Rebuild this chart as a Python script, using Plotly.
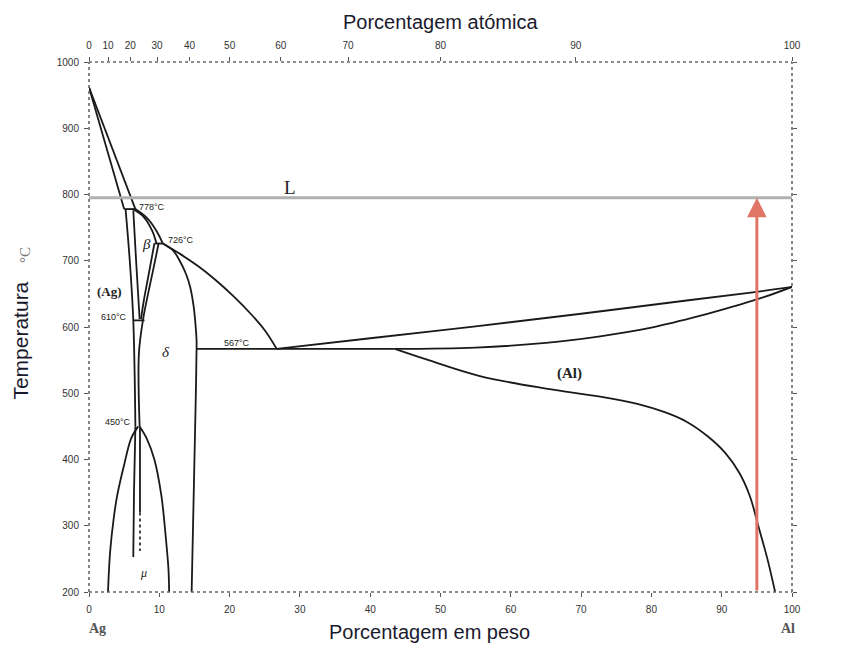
import plotly.graph_objects as go

# ---------------- data (wt% Al, temperature °C) ----------------
liq_ag_x = [0, 6.6]
liq_ag_t = [961.93, 778]
sol_ag_x = [0, 5.0]
sol_ag_t = [961.93, 778]
per778_x = [5.0, 6.6]
per778_t = [778, 778]
liq_beta_x = [6.6, 8.2, 9.6, 10.5]
liq_beta_t = [778, 765, 745, 726]
sol_beta_x = [6.2, 7.8, 9.0, 9.6]
sol_beta_t = [778, 766, 745, 726]
per726_x = [9.3, 10.5]
per726_t = [726, 726]
ag_solvus_x = [5.2, 5.8, 6.3, 6.6]
ag_solvus_t = [778, 700, 610, 450]
beta_left_x = [6.3, 6.7, 7.2]
beta_left_t = [776, 700, 612]
beta_right_x = [9.3, 8.5, 7.8, 7.4]
beta_right_t = [726, 680, 640, 612]
delta_left_x = [9.9, 9.2, 8.4, 7.7, 7.1, 7.2]
delta_left_t = [726, 690, 650, 612, 560, 450]
eut610_x = [6.3, 7.9]
eut610_t = [610, 610]
delta_right_x = [10.5, 12.0, 12.9, 13.8, 14.4, 14.9, 15.1, 15.3, 15.3, 15.2, 15.0, 14.8, 14.6]
delta_right_t = [726, 715, 700, 680, 660, 630, 610, 580, 567, 500, 400, 300, 200]
liq_delta_x = [10.5, 13.0, 15.5, 18.0, 20.5, 23.0, 25.0, 26.7]
liq_delta_t = [726, 710, 692, 671, 647, 620, 595, 567]
eut567_x = [15.3, 43.5]
eut567_t = [567, 567]
liq_al_x = [26.7, 40, 55, 70, 85, 95, 100]
liq_al_t = [567, 583, 601, 620, 640, 653, 660.452]
sol_al_x = [43.5, 55, 65, 72.7, 80, 87, 92, 96, 100]
sol_al_t = [567, 569, 576, 586, 599, 617, 632, 645, 660.452]
al_solvus_x = [43.5, 48, 55.6, 65, 72.7, 78, 82, 85, 88, 90.5, 92.5, 94, 95.2, 96.5, 97.6]
al_solvus_t = [567, 551, 526, 507, 495, 484, 471, 457, 435, 410, 380, 345, 300, 250, 200]
mu_left_x = [7.0, 6.0, 5.0, 4.0, 3.5, 3.0, 2.7]
mu_left_t = [450, 432, 392, 345, 310, 260, 200]
mu_right_x = [7.2, 8.2, 9.3, 10.3, 10.9, 11.3, 11.4]
mu_right_t = [450, 432, 400, 345, 285, 235, 200]
ag_low_x = [6.6, 6.4, 6.3]
ag_low_t = [450, 350, 253]
mu_line_x = [7.25, 7.25]
mu_line_t = [450, 320]
mu_dash_x = [7.25, 7.25]
mu_dash_t = [320, 262]

liquid_line_t = 795
sample_x = 95

bottom_ticks = [0, 10, 20, 30, 40, 50, 60, 70, 80, 90, 100]
left_ticks = [200, 300, 400, 500, 600, 700, 800, 900, 1000]
atomic_ticks = [0, 10, 20, 30, 40, 50, 60, 70, 80, 90, 100]
M_AL, M_AG = 26.98, 107.87
atomic_pos = [a * M_AL / (a * M_AL + (100 - a) * M_AG) * 100 for a in atomic_ticks]

fig = go.Figure()

curves = [
    (liq_ag_x, liq_ag_t, 'linear'), (sol_ag_x, sol_ag_t, 'linear'),
    (per778_x, per778_t, 'linear'), (liq_beta_x, liq_beta_t, 'spline'),
    (sol_beta_x, sol_beta_t, 'spline'), (per726_x, per726_t, 'linear'),
    (ag_solvus_x, ag_solvus_t, 'spline'), (beta_left_x, beta_left_t, 'spline'),
    (beta_right_x, beta_right_t, 'spline'), (delta_left_x, delta_left_t, 'spline'),
    (eut610_x, eut610_t, 'linear'), (delta_right_x, delta_right_t, 'spline'),
    (liq_delta_x, liq_delta_t, 'spline'), (eut567_x, eut567_t, 'linear'),
    (liq_al_x, liq_al_t, 'spline'), (sol_al_x, sol_al_t, 'spline'),
    (al_solvus_x, al_solvus_t, 'spline'), (mu_left_x, mu_left_t, 'spline'),
    (mu_right_x, mu_right_t, 'spline'), (ag_low_x, ag_low_t, 'spline'),
    (mu_line_x, mu_line_t, 'linear'),
]
for cx, ct, shp in curves:
    fig.add_trace(go.Scatter(x=cx, y=ct, mode='lines', line=dict(color='#1a1a1a', width=1.8, shape=shp),
                             hoverinfo='skip', showlegend=False))
fig.add_trace(go.Scatter(x=mu_dash_x, y=mu_dash_t, mode='lines',
                         line=dict(color='#1a1a1a', width=1.6, dash='dot'), showlegend=False))

# gray liquid line
fig.add_trace(go.Scatter(x=[0, 100], y=[liquid_line_t, liquid_line_t], mode='lines',
                         line=dict(color='#b0b0b0', width=3), showlegend=False))

# dummy traces for secondary axes
fig.add_trace(go.Scatter(x=[0, 100], y=[200, 1000], xaxis='x2', yaxis='y2', mode='markers',
                         marker=dict(opacity=0), showlegend=False, hoverinfo='skip'))

fig.add_annotation(x=sample_x, y=liquid_line_t, ax=sample_x, ay=200, xref='x', yref='y',
                   axref='x', ayref='y', showarrow=True, arrowhead=2, arrowsize=1.3,
                   arrowwidth=3, arrowcolor='#e07565', text='')

lab = dict(family='Liberation Sans', size=9, color='#222')
def txt(x, y, s, xa='center', font=lab):
    fig.add_annotation(x=x, y=y, text=s, showarrow=False, xanchor=xa, yanchor='middle', font=font)

txt(-0.4, 962, '<b>961.93°C</b>', 'right')
txt(6.8, 781, '778°C', 'left')
txt(11.0, 731, '726°C', 'left')
txt(5.7, 615, '610°C', 'right')
txt(6.2, 456, '450°C', 'right')
txt(21.1, 576, '567°C', 'center')
txt(100.7, 663, '660.452°C', 'left')
txt(8.2, 726, '<i>β</i>', 'center', dict(family='Liberation Serif', size=15, color='#222'))
txt(11.0, 563, '<i>δ</i>', 'center', dict(family='Liberation Serif', size=15, color='#222'))
txt(7.8, 228, '<i>μ</i>', 'center', dict(family='Liberation Serif', size=12, color='#222'))
txt(2.9, 653, '<b>(Ag)</b>', 'center', dict(family='Liberation Serif', size=13, color='#222'))
txt(68.4, 530, '<b>(Al)</b>', 'center', dict(family='Liberation Serif', size=15, color='#222'))
txt(28.6, 811, 'L', 'center', dict(family='Liberation Serif', size=19, color='#222'))

def ptxt(x, y, s, font, angle=0):
    fig.add_annotation(x=x, y=y, xref='paper', yref='paper', text=s, showarrow=False,
                       xanchor='center', yanchor='middle', font=font, textangle=angle)

serif_lbl = dict(family='Liberation Serif', size=14, color='#555')
ptxt(0.012, -0.068, '<b>Ag</b>', serif_lbl)
ptxt(0.995, -0.068, '<b>Al</b>', serif_lbl)
title_font = dict(family='Liberation Sans', size=20, color='#1a1a2e')
ptxt(0.500, 1.075, 'Porcentagem atómica', title_font)
ptxt(0.485, -0.076, 'Porcentagem em peso', title_font)
ptxt(-0.097, 0.474, 'Temperatura', dict(family='Liberation Sans', size=21, color='#1a1a2e'), -90)
ptxt(-0.091, 0.636, '°C', dict(family='Liberation Serif', size=15, color='#777'), -90)

# dotted frame
frame = dict(color='#666', width=1.6, dash='dot')
for x0, y0, x1, y1 in [(0, 0, 1, 0), (0, 1, 1, 1), (0, 0, 0, 1), (1, 0, 1, 1)]:
    fig.add_shape(type='line', xref='x domain', yref='y domain', x0=x0, y0=y0, x1=x1, y1=y1, line=frame)

tickfont = dict(family='Liberation Sans', size=10, color='#333')
common = dict(showgrid=False, zeroline=False, ticks='outside', ticklen=4, tickcolor='#555',
              tickfont=tickfont, automargin=False)
# page body has an 8px margin; offset the plot so it lands where the reference has it
fig.update_layout(
    width=868, height=646, paper_bgcolor='white', plot_bgcolor='white',
    margin=dict(l=81, r=84, t=54, b=62, autoexpand=False),
    xaxis=dict(range=[0, 100], tickvals=bottom_ticks, ticklabelstandoff=4, **common),
    yaxis=dict(range=[200, 1000], tickvals=left_ticks, ticklabelstandoff=3, **common),
    xaxis2=dict(range=[0, 100], overlaying='x', side='top', tickvals=atomic_pos,
                ticktext=[str(a) for a in atomic_ticks], ticklabelstandoff=4, **common),
    yaxis2=dict(range=[200, 1000], overlaying='y', side='right', tickvals=left_ticks,
                showticklabels=False, **common),
)

fig.write_html('out.html')
